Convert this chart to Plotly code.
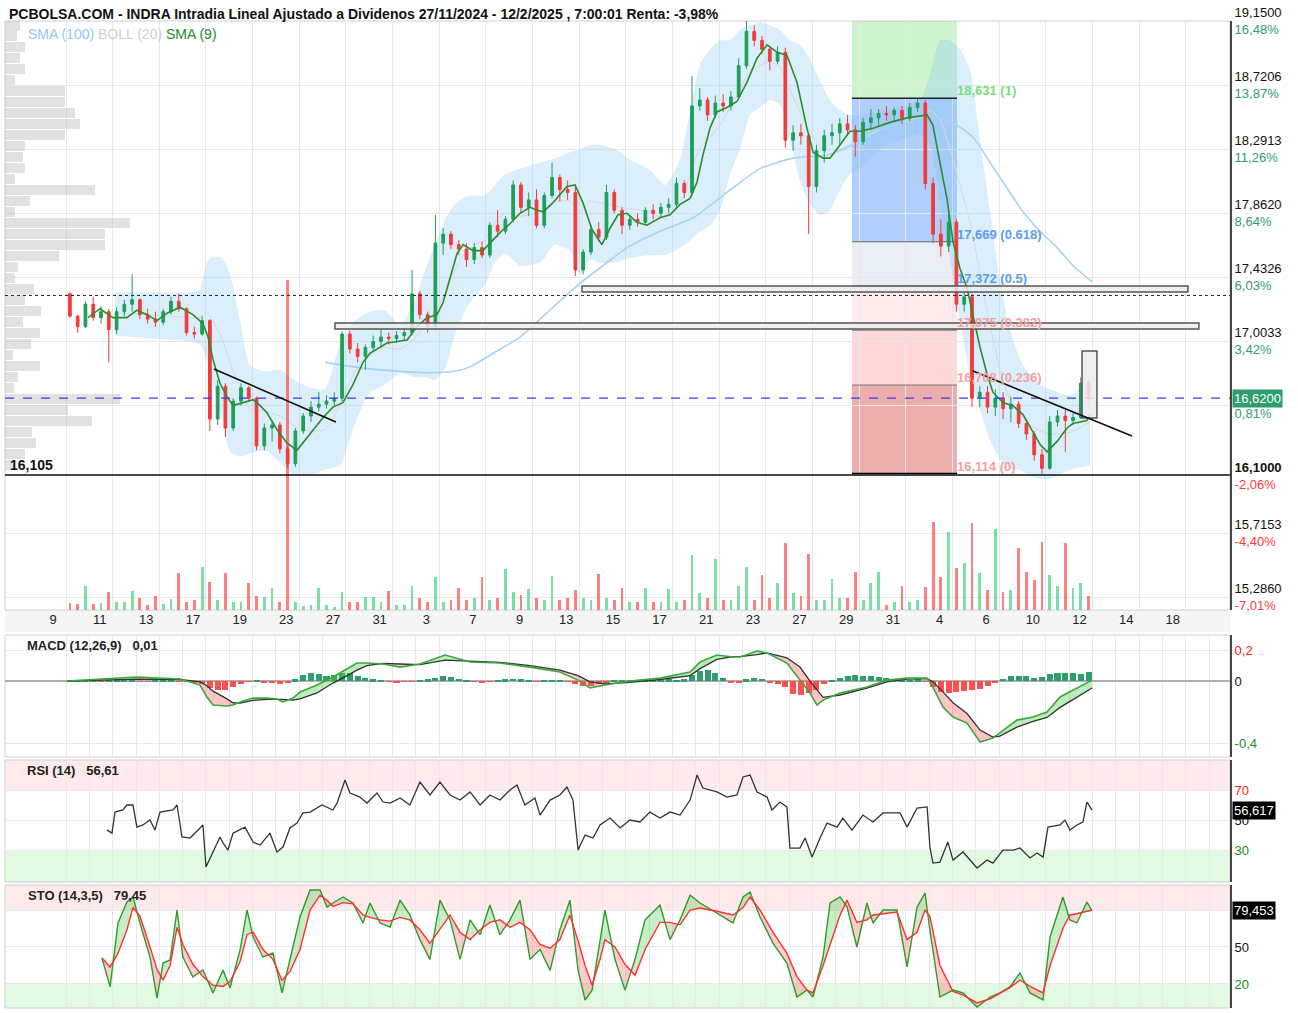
import plotly.graph_objects as go

W, H = 1298, 1013
ML, MR = 5, 68
PW = W - ML - MR


def px_x(x):
    return (x - ML) / PW


def px_y(y):
    return 1 - y / H


FONT = "Liberation Sans, Arial, sans-serif"
GTXT = "#2e9e6e"
RTXT = "#ff3b3b"

# ---------------- data ----------------
day_labels = ["9", "11", "13", "17", "19", "23", "27", "31", "3", "7", "9", "13", "15",
              "17", "21", "23", "27", "29", "31", "4", "6", "10", "12", "14", "18"]
label_days = list(range(0, 49, 2))

open_ = [17.32, 17.17, 17.10, 17.25, 17.16, 17.20, 17.08, 17.20, 17.25, 17.28, 17.18, 17.15,
         17.13, 17.20, 17.27, 17.22, 17.06, 17.05, 17.14, 16.48, 16.70, 16.42, 16.60, 16.69,
         16.62, 16.30, 16.42, 16.44, 16.28, 16.18, 16.40, 16.50, 16.56, 16.58, 16.60, 16.62,
         17.05, 16.95, 16.90, 16.96, 17.00, 17.03, 17.02, 17.04, 17.06, 17.32, 17.18, 17.10,
         17.66, 17.72, 17.65, 17.62, 17.55, 17.63, 17.58, 17.78, 17.74, 17.82, 18.05, 17.90,
         17.95, 17.78, 17.98, 18.10, 18.02, 18.00, 17.48, 17.60, 17.75, 17.70, 18.00, 17.88,
         17.78, 17.82, 17.80, 17.88, 17.86, 17.90, 17.92, 18.06, 18.00, 18.58, 18.62, 18.52,
         18.60, 18.58, 18.64, 18.85, 19.08, 19.02, 18.96, 18.88, 18.94, 18.35, 18.40, 18.38,
         18.04, 18.28, 18.38, 18.40, 18.46, 18.42, 18.34, 18.47, 18.50, 18.53, 18.52, 18.55,
         18.50, 18.57, 18.60, 18.06, 17.72, 17.64, 17.80, 17.25, 17.30, 16.62, 16.66, 16.56,
         16.62, 16.55, 16.58, 16.45, 16.38, 16.24, 16.15, 16.46, 16.50, 16.47, 16.49, 16.72]
high = [17.33, 17.18, 17.27, 17.30, 17.24, 17.22, 17.23, 17.28, 17.45, 17.29, 17.22, 17.20,
        17.22, 17.30, 17.32, 17.23, 17.10, 17.17, 17.15, 16.74, 16.72, 16.62, 16.72, 16.70,
        16.63, 16.45, 16.47, 16.46, 16.30, 16.42, 16.52, 16.60, 16.66, 16.64, 16.66, 17.07,
        17.07, 16.99, 16.98, 17.04, 17.08, 17.06, 17.07, 17.08, 17.48, 17.34, 17.20, 17.85,
        17.76, 17.74, 17.68, 17.66, 17.66, 17.67, 17.80, 17.88, 17.84, 18.08, 18.07, 18.00,
        18.02, 18.00, 18.20, 18.12, 18.08, 18.04, 17.62, 17.78, 17.80, 18.05, 18.02, 17.90,
        17.85, 17.86, 17.90, 17.92, 17.93, 17.96, 18.10, 18.08, 18.78, 18.70, 18.64, 18.65,
        18.66, 18.68, 18.90, 19.15, 19.12, 19.05, 18.98, 18.98, 18.97, 18.45, 18.46, 18.40,
        18.32, 18.42, 18.46, 18.50, 18.52, 18.45, 18.50, 18.56, 18.56, 18.58, 18.57, 18.58,
        18.60, 18.63, 18.62, 18.10, 17.82, 17.88, 17.82, 17.34, 17.32, 16.70, 16.70, 16.68,
        16.66, 16.63, 16.60, 16.48, 16.40, 16.28, 16.50, 16.54, 16.54, 16.52, 16.76, 16.74]
low = [17.16, 17.06, 17.09, 17.14, 17.12, 16.86, 17.05, 17.17, 17.20, 17.15, 17.12, 17.10,
       17.11, 17.18, 17.20, 17.04, 17.02, 17.04, 16.40, 16.44, 16.36, 16.40, 16.57, 16.60,
       16.27, 16.27, 16.33, 16.25, 16.15, 16.16, 16.38, 16.46, 16.53, 16.55, 16.57, 16.60,
       16.92, 16.86, 16.81, 16.93, 16.96, 16.98, 16.99, 17.01, 17.04, 17.15, 17.06, 17.08,
       17.58, 17.62, 17.58, 17.50, 17.52, 17.56, 17.56, 17.70, 17.72, 17.80, 17.86, 17.84,
       17.76, 17.76, 17.96, 17.94, 17.95, 17.44, 17.45, 17.58, 17.67, 17.68, 17.86, 17.72,
       17.75, 17.77, 17.78, 17.82, 17.83, 17.86, 17.90, 17.96, 17.98, 18.55, 18.48, 18.50,
       18.54, 18.55, 18.62, 18.83, 18.98, 18.93, 18.82, 18.86, 18.30, 18.28, 18.32, 17.72,
       18.00, 18.20, 18.32, 18.32, 18.38, 18.24, 18.32, 18.42, 18.45, 18.48, 18.47, 18.46,
       18.48, 18.54, 18.02, 17.66, 17.57, 17.60, 17.20, 17.20, 16.56, 16.56, 16.52, 16.50,
       16.48, 16.46, 16.42, 16.34, 16.20, 16.11, 16.14, 16.43, 16.26, 16.44, 16.48, 16.60]
close = [17.17, 17.10, 17.25, 17.16, 17.20, 17.08, 17.20, 17.25, 17.28, 17.18, 17.15, 17.13,
         17.20, 17.27, 17.22, 17.06, 17.05, 17.14, 16.48, 16.70, 16.42, 16.60, 16.69, 16.62,
         16.30, 16.42, 16.44, 16.28, 16.18, 16.40, 16.50, 16.56, 16.58, 16.60, 16.62, 17.05,
         16.95, 16.90, 16.96, 17.00, 17.03, 17.02, 17.04, 17.06, 17.32, 17.18, 17.10, 17.66,
         17.72, 17.65, 17.62, 17.55, 17.63, 17.58, 17.78, 17.74, 17.82, 18.05, 17.90, 17.95,
         17.78, 17.98, 18.10, 18.02, 18.00, 17.48, 17.60, 17.75, 17.70, 18.00, 17.88, 17.78,
         17.82, 17.80, 17.88, 17.86, 17.90, 17.92, 18.06, 18.00, 18.58, 18.62, 18.52, 18.60,
         18.58, 18.64, 18.85, 19.08, 19.02, 18.96, 18.88, 18.94, 18.35, 18.40, 18.38, 18.04,
         18.28, 18.38, 18.40, 18.46, 18.42, 18.34, 18.47, 18.50, 18.53, 18.52, 18.55, 18.50,
         18.57, 18.60, 18.06, 17.72, 17.64, 17.80, 17.25, 17.30, 16.62, 16.66, 16.56, 16.62,
         16.55, 16.58, 16.45, 16.38, 16.24, 16.15, 16.46, 16.50, 16.47, 16.49, 16.72, 16.62]
volume = [7, 6, 24, 6, 7, 18, 8, 8, 19, 12, 5, 14, 6, 11, 37, 8, 10, 43, 28, 10, 37,
          8, 8, 27, 14, 13, 22, 8, 330, 8, 4, 5, 22, 5, 3, 18, 8, 8, 13, 13, 8, 19,
          5, 5, 24, 12, 8, 33, 8, 10, 22, 10, 12, 33, 10, 12, 41, 18, 15, 21, 12, 10, 34,
          10, 12, 20, 12, 10, 36, 12, 10, 22, 8, 8, 22, 8, 8, 21, 8, 10, 55, 17, 12, 51,
          10, 10, 24, 43, 10, 35, 12, 27, 67, 17, 14, 56, 10, 10, 31, 12, 12, 38, 10, 27, 38,
          5, 8, 24, 8, 10, 23, 88, 33, 78, 42, 47, 87, 37, 20, 81, 18, 20, 62, 38, 30, 68,
          35, 24, 67, 22, 27, 14]
bar_t = [k / 3 + 1 / 6 for k in range(len(close))]   # trading-day time of each bar

sma9_t = [0.94, 1.46, 2.01, 2.61, 3.04, 3.47, 3.90, 4.33, 4.89, 5.44, 5.87, 6.09, 6.30, 6.60, 6.90,
          7.16, 7.59, 8.02, 8.32, 8.62, 9.04, 9.47, 9.90, 10.16, 10.59, 11.02, 11.44, 11.87, 12.30,
          12.73, 13.03, 13.76, 14.62, 15.04, 15.47, 15.90, 16.16, 16.46, 16.76, 17.02, 17.45, 17.87,
          18.17, 18.60, 19.03, 19.46, 19.89, 20.19, 20.45, 20.87, 21.47, 21.82, 22.16, 22.55, 22.97,
          23.32, 23.66, 24.05, 24.47, 24.90, 25.46, 25.89, 26.32, 26.75, 27.05, 27.30, 27.60, 27.90,
          28.33, 28.76, 29.19, 29.62, 30.05, 30.48, 30.90, 31.33, 31.76, 32.02, 32.45, 32.75, 33.18,
          33.60, 34.03, 34.59, 35.32, 36.05, 36.91, 37.16, 37.46, 37.76, 38.02, 38.32, 38.62, 38.88,
          39.18, 39.48, 39.73, 40.16, 40.59, 41.02, 41.45, 41.75, 42.05, 42.48, 42.91, 43.16, 43.76,
          43.89]
sma9_v = [17.16, 17.22, 17.16, 17.16, 17.21, 17.18, 17.14, 17.19, 17.23, 17.18, 17.12, 17.03, 16.88,
          16.72, 16.63, 16.57, 16.59, 16.61, 16.57, 16.52, 16.41, 16.32, 16.27, 16.32, 16.41, 16.49,
          16.56, 16.59, 16.71, 16.86, 16.92, 16.99, 17.01, 17.10, 17.16, 17.18, 17.26, 17.43, 17.59,
          17.65, 17.61, 17.61, 17.66, 17.73, 17.79, 17.86, 17.90, 17.88, 17.87, 17.93, 18.04, 18.05,
          17.93, 17.75, 17.65, 17.76, 17.85, 17.86, 17.80, 17.78, 17.83, 17.85, 17.92, 17.96, 18.07,
          18.25, 18.43, 18.54, 18.57, 18.61, 18.74, 18.90, 18.99, 18.94, 18.92, 18.74, 18.43, 18.27,
          18.23, 18.23, 18.32, 18.41, 18.41, 18.43, 18.47, 18.50, 18.52, 18.45, 18.20, 17.96, 17.67,
          17.49, 17.36, 17.18, 16.96, 16.78, 16.66, 16.59, 16.57, 16.51, 16.39, 16.31, 16.26, 16.33,
          16.42, 16.45, 16.47, 16.51]

bb_t = [2.10, 3.60, 5.32, 5.74, 6.04, 6.30, 6.69, 7.03, 7.46, 7.89, 8.53, 9.17, 9.82, 10.46, 11.10,
        11.74, 12.39, 13.03, 13.67, 14.32, 14.96, 15.39, 15.82, 16.25, 16.67, 17.10, 17.53, 17.96,
        18.39, 18.82, 19.46, 20.32, 20.96, 21.60, 22.03, 22.46, 22.89, 23.53, 24.17, 25.03, 25.68,
        26.32, 26.75, 27.18, 27.60, 28.03, 28.46, 28.89, 29.32, 29.75, 30.18, 30.60, 31.03, 31.46,
        31.89, 32.32, 32.75, 33.18, 33.60, 34.03, 34.89, 35.75, 36.60, 37.03, 37.46, 37.89, 38.32,
        38.75, 39.18, 39.60, 40.03, 40.46, 40.89, 41.32, 41.75, 42.18, 43.03, 43.89]
bb_up = [17.33, 17.33, 17.33, 17.35, 17.53, 17.57, 17.56, 17.45, 17.14, 16.84, 16.80, 16.81, 16.74,
         16.69, 16.68, 16.98, 17.14, 17.20, 17.21, 17.11, 17.28, 17.48, 17.65, 17.82, 17.92, 17.97,
         17.98, 17.98, 18.05, 18.12, 18.16, 18.20, 18.23, 18.27, 18.29, 18.32, 18.32, 18.29, 18.22,
         18.15, 18.05, 18.22, 18.55, 18.86, 18.96, 19.02, 19.02, 19.09, 19.12, 19.14, 19.12, 19.09,
         19.02, 18.99, 18.89, 18.75, 18.62, 18.55, 18.52, 18.52, 18.55, 18.57, 18.62, 18.79, 19.02,
         19.02, 18.96, 18.82, 18.35, 17.88, 17.41, 17.08, 16.88, 16.78, 16.71, 16.68, 16.64, 16.74]
bb_mid = [17.19, 17.18, 17.16, 17.16, 17.20, 17.14, 17.02, 16.86, 16.69, 16.55, 16.53, 16.50, 16.43,
          16.40, 16.41, 16.57, 16.80, 16.93, 16.96, 16.95, 17.02, 17.12, 17.20, 17.32, 17.48, 17.59,
          17.65, 17.68, 17.80, 17.86, 17.84, 17.87, 17.94, 17.94, 17.87, 17.94, 17.93, 17.91, 17.89,
          17.87, 17.82, 17.92, 18.12, 18.30, 18.37, 18.45, 18.57, 18.69, 18.82, 18.85, 18.88, 18.84,
          18.69, 18.54, 18.41, 18.31, 18.25, 18.29, 18.32, 18.35, 18.42, 18.46, 18.51, 18.55, 18.49,
          18.29, 18.05, 17.80, 17.45, 17.11, 16.81, 16.61, 16.51, 16.44, 16.40, 16.38, 16.39, 16.46]
bb_lo = [17.04, 17.02, 17.00, 16.98, 16.88, 16.71, 16.47, 16.26, 16.23, 16.25, 16.27, 16.19, 16.10,
         16.10, 16.14, 16.17, 16.45, 16.66, 16.71, 16.79, 16.76, 16.76, 16.74, 16.82, 17.04, 17.21,
         17.31, 17.38, 17.53, 17.59, 17.51, 17.53, 17.65, 17.61, 17.45, 17.55, 17.53, 17.53, 17.56,
         17.58, 17.58, 17.63, 17.68, 17.74, 17.78, 17.88, 18.12, 18.29, 18.52, 18.57, 18.62, 18.59,
         18.35, 18.08, 17.92, 17.85, 17.88, 18.02, 18.12, 18.16, 18.29, 18.35, 18.39, 18.32, 17.95,
         17.55, 17.14, 16.78, 16.54, 16.34, 16.21, 16.15, 16.14, 16.10, 16.08, 16.08, 16.14, 16.17]

sma100_t = [11.10, 12.82, 14.32, 15.60, 16.67, 17.32, 18.30, 19.46, 20.87, 22.03, 23.19, 24.05, 25.46,
            26.88, 28.33, 29.75, 31.16, 32.62, 33.73, 34.59, 36.05, 36.91, 37.46, 38.19, 38.88, 39.61,
            40.33, 41.02, 41.75, 42.48, 43.16, 43.98]
sma100_v = [16.86, 16.82, 16.80, 16.79, 16.80, 16.83, 16.92, 17.03, 17.23, 17.39, 17.53, 17.63, 17.74,
            17.83, 18.00, 18.16, 18.23, 18.25, 18.32, 18.41, 18.47, 18.51, 18.50, 18.45, 18.37, 18.20,
            18.03, 17.87, 17.74, 17.63, 17.51, 17.40]

macd_t = [0.04, 1.46, 3.04, 4.89, 5.74, 6.04, 6.30, 6.90, 7.16, 7.46, 8.02, 8.62, 9.04, 9.30, 9.73,
          10.03, 10.76, 11.44, 12.17, 12.47, 12.90, 13.59, 14.32, 15.17, 16.25, 17.32, 18.60, 19.89,
          21.17, 21.95, 22.46, 23.10, 24.17, 25.46, 26.75, 27.18, 27.90, 28.59, 28.89, 29.62, 30.05,
          30.90, 31.46, 31.89, 32.19, 32.45, 33.18, 34.33, 35.19, 36.05, 36.91, 37.16, 37.59, 38.02,
          38.62, 39.18, 39.73, 40.03, 40.76, 41.45, 42.05, 42.61, 43.16, 43.98]
macd_v = [0, 0.013, 0.026, 0.013, -0.026, -0.103, -0.155, -0.161, -0.155, -0.135, -0.110, -0.110,
          -0.116, -0.135, -0.110, -0.071, -0.026, 0.026, 0.090, 0.116, 0.116, 0.110, 0.090, 0.110,
          0.168, 0.123, 0.116, 0.090, 0.058, 0.006, -0.045, -0.026, 0.000, 0.019, 0.058, 0.123, 0.168,
          0.155, 0.155, 0.194, 0.181, 0.116, 0.006, -0.077, -0.155, -0.123, -0.077, -0.039, 0.006,
          0.019, 0.019, -0.039, -0.168, -0.232, -0.271, -0.394, -0.368, -0.335, -0.252, -0.232,
          -0.200, -0.103, -0.058, 0.006]
macd_sig = [0, 0.005, 0.012, 0.010, -0.005, -0.030, -0.065, -0.115, -0.140, -0.142, -0.125, -0.118,
            -0.116, -0.118, -0.123, -0.115, -0.077, -0.013, 0.045, 0.070, 0.100, 0.114, 0.110, 0.106,
            0.135, 0.130, 0.120, 0.100, 0.070, 0.035, -0.005, -0.018, -0.008, 0.010, 0.035, 0.080,
            0.140, 0.158, 0.157, 0.170, 0.181, 0.150, 0.090, 0.000, -0.060, -0.105, -0.090, -0.045,
            -0.005, 0.013, 0.015, -0.005, -0.070, -0.140, -0.210, -0.316, -0.361, -0.355, -0.297,
            -0.260, -0.235, -0.170, -0.120, -0.045]
macd_hist = [0.003, 0.005, 0.004, 0.002, -0.002, 0.003, 0.004, 0.006, 0.005, -0.002, -0.003, 0.002,
             0.003, 0.004, -0.002, -0.005, -0.01, -0.02, -0.045, -0.06, -0.055, -0.04, -0.02, -0.005,
             0.005, -0.01, -0.015, -0.02, -0.01, 0.01, 0.04, 0.05, 0.045, 0.035, 0.04, 0.05,
             0.05, 0.035, 0.02, 0.01, 0.005, -0.005, -0.01, -0.005, -0.002, 0.005, 0.01, 0.02,
             0.03, 0.025, 0.015, 0.005, -0.005, -0.01, -0.005, 0.005, 0.01, 0.015, 0.01, 0.005,
             -0.005, 0.003, 0.005, 0.002, -0.005, -0.02, -0.035, -0.03, -0.02, -0.01, 0.005, 0.005,
             0.002, -0.003, 0.002, 0.005, 0.01, 0.01, 0.005, 0.01, 0.04, 0.065, 0.07, 0.05,
             0.02, -0.008, -0.01, 0.01, 0.02, 0.015, -0.01, -0.02, -0.04, -0.085, -0.09, -0.08,
             -0.06, -0.02, 0.005, 0.02, 0.03, 0.04, 0.035, 0.03, 0.025, 0.02, 0.015, 0.01,
             0.008, 0.01, -0.005, -0.04, -0.07, -0.075, -0.07, -0.065, -0.06, -0.05, -0.03, -0.01,
             0.015, 0.03, 0.035, 0.03, 0.02, 0.025, 0.045, 0.055, 0.055, 0.05, 0.045, 0.06]

rsi_t = [1.76, 1.97, 2.10, 2.44, 2.61, 2.87, 3.04, 3.30, 3.60, 3.81, 4.03, 4.59, 4.76, 4.97, 5.32,
         5.74, 5.87, 6.00, 6.17, 6.60, 6.73, 6.94, 7.16, 7.67, 8.02, 8.32, 8.74, 9.04, 9.30, 9.60,
         9.90, 10.16, 10.46, 10.97, 11.44, 11.62, 11.96, 12.17, 12.60, 12.90, 13.33, 13.59, 13.89,
         14.32, 14.74, 15.17, 15.60, 16.03, 16.46, 16.89, 17.32, 17.75, 18.17, 18.60, 19.03, 19.33,
         19.67, 20.10, 20.32, 20.75, 21.17, 21.47, 21.73, 21.95, 22.25, 22.59, 22.89, 23.32, 23.75,
         24.17, 24.60, 25.03, 25.46, 25.89, 26.32, 26.75, 27.05, 27.30, 27.90, 28.33, 28.76, 29.02,
         29.32, 29.62, 30.05, 30.26, 30.60, 30.90, 31.03, 31.46, 31.68, 31.98, 32.32, 32.62, 33.05,
         33.30, 33.69, 34.16, 34.59, 35.02, 35.75, 36.05, 36.48, 36.91, 37.03, 37.16, 37.46, 37.80,
         38.02, 38.45, 39.05, 39.48, 39.73, 40.16, 40.59, 40.89, 41.32, 41.62, 41.88, 42.09, 42.61,
         42.82, 43.03, 43.33, 43.59, 43.76, 43.98]
rsi_v = [43.3, 41.3, 55.3, 56.7, 60, 60, 45.3, 46.7, 50, 43.3, 55.3, 56.7, 60, 38.7, 38, 44.7, 46.7,
         18.7, 24.7, 38.7, 34.7, 30, 41.3, 45.3, 35.3, 33.3, 41.3, 28.7, 32, 44.7, 48, 54.7, 55.3, 60,
         56.7, 61.3, 76.7, 68, 65.3, 61.3, 68, 62, 61.3, 64.7, 60, 75.3, 66.7, 75.3, 66.7, 63.3, 68.7,
         60, 66.7, 63.3, 70, 73.3, 60, 64.7, 53.3, 63.3, 66.7, 72, 63.3, 30, 40, 38, 46.7, 51.3, 44.7,
         50, 48.7, 55.3, 51.3, 55.3, 53.3, 63.3, 80, 71.3, 68.7, 65.3, 66.7, 78.7, 80, 68.7, 65.3,
         56.7, 62, 58.7, 31.3, 31.3, 38, 25.3, 38, 48, 45.3, 51.3, 43.3, 53.3, 48.7, 54.7, 54.7, 45.3,
         58, 58.7, 32, 21.3, 22, 35.3, 23.3, 28.7, 18, 23.3, 21.3, 30, 30, 31.3, 24.7, 28, 25.3, 45.3,
         46.7, 50, 43.3, 46.7, 48.7, 62, 56.6]

sto_t = [1.54, 1.89, 2.23, 2.61, 2.87, 3.17, 3.60, 3.90, 4.16, 4.46, 4.76, 5.01, 5.44, 5.87, 6.30,
         6.73, 7.03, 7.46, 7.76, 8.02, 8.44, 8.87, 9.26, 9.60, 10.03, 10.46, 10.89, 11.19, 11.44, 11.87,
         12.30, 12.73, 13.03, 13.46, 13.89, 14.32, 14.74, 15.17, 15.60, 16.03, 16.46, 16.89, 17.32,
         17.75, 18.17, 18.60, 19.03, 19.46, 19.89, 20.32, 20.75, 21.17, 21.60, 21.95, 22.25, 22.55,
         22.89, 23.10, 23.53, 23.96, 24.39, 24.82, 25.46, 25.89, 26.32, 26.75, 27.18, 27.90, 28.59,
         29.02, 29.32, 29.75, 30.30, 30.90, 31.33, 31.76, 32.02, 32.45, 32.75, 33.18, 33.48, 33.90,
         34.33, 34.59, 35.02, 35.62, 36.05, 36.48, 36.82, 37.03, 37.46, 38.02, 38.45, 39.05, 39.61,
         40.03, 40.46, 40.89, 41.32, 41.88, 42.18, 42.73, 43.03, 43.33, 43.76, 43.98]
sto_k = [41.1, 17.6, 69.5, 86.5, 90.6, 69.5, 41.9, 8.6, 37.0, 39.5, 80.0, 41.9, 25.7, 31.3, 12.7,
         31.3, 16.7, 47.6, 80.0, 58.1, 41.9, 45.1, 12.7, 39.5, 74.3, 96.2, 96.2, 82.4, 85.7, 90.6,
         85.7, 69.5, 85.7, 69.5, 66.2, 88.1, 76, 56, 40, 88, 72, 40, 72, 60, 84, 60, 72, 88, 40, 48,
         31, 64, 88, 31, 7, 15, 56, 80, 40, 15, 40, 72, 84, 56, 72, 92, 85.7, 77.6, 69.5, 90.6,
         94.6, 74.3, 53.2, 37.0, 9.4, 15.1, 9.4, 41.9, 85.7, 90.6, 82.4, 50, 85.7, 69.5, 80, 80,
         33.8, 82.4, 93.8, 63.8, 9.4, 15.1, 12.7, 1.3, 9.4, 12.7, 17.6, 28.9, 12.7, 7.0, 58.1, 90.6,
         71.9, 69.5, 86.5, 79.5]
sto_d = [41.1, 33.8, 45, 63.8, 82, 75, 50, 32, 23, 35, 66, 52, 36, 26, 19, 18, 22, 38, 60, 62,
         48, 40, 23, 30, 48, 80, 92, 88, 83, 86, 85, 76, 74, 72, 71, 74, 72, 64, 53, 64, 76, 62, 56,
         64, 70, 72, 66, 70, 64, 52, 49, 56, 76, 55, 35, 19, 40, 56, 50, 36, 27, 48, 70, 70, 68, 80,
         81.6, 79, 76, 82, 90.6, 80, 62, 45, 26, 15.1, 12.7, 35, 52, 76, 88, 70, 72, 76, 77, 78.4,
         56, 62, 80, 75, 35, 14, 11, 4.6, 8, 12.7, 17, 23.2, 18, 12.7, 35, 65, 76, 77, 79, 80]

prof_price = [19.117, 19.050, 18.976, 18.902, 18.828, 18.754, 18.681, 18.607, 18.533, 18.459, 18.385,
              18.312, 18.238, 18.164, 18.090, 18.016, 17.943, 17.869, 17.795, 17.721, 17.647, 17.574,
              17.500, 17.426, 17.352, 17.279, 17.205, 17.131, 17.057, 16.983, 16.910, 16.836, 16.762,
              16.688, 16.614, 16.541, 16.467, 16.393, 16.319, 16.245, 16.172]
prof_vol = [15, 12, 20, 15, 20, 10, 60, 60, 70, 75, 60, 20, 18, 20, 10, 90, 25, 10, 125, 100, 100,
            54, 13, 10, 29, 20, 36, 18, 35, 26, 8, 35, 13, 9, 115, 63, 87, 27, 31, 20, 10]

# drawing objects (time in trading days, prices in EUR)
fib_t = [33.69, 38.19]
fib_prices = [18.631, 17.669, 17.372, 17.075, 16.708, 16.114]
fib_names = ["18,631 (1)", "17,669 (0.618)", "17,372 (0.5)", "17,075 (0.382)", "16,708 (0.236)", "16,114 (0)"]
zones = [(22.12, 48.09, 17.332, 17.372), (11.53, 48.56, 17.084, 17.124), (43.55, 44.19, 16.487, 16.937)]
trendlines = [(6.34, 16.816, 11.57, 16.460), (38.88, 16.802, 45.69, 16.366)]
last_price = 16.62
start_price = 17.309
support = 16.105

y_ticks = [19.15, 18.7206, 18.2913, 17.862, 17.4326, 17.0033, 16.574, 16.1, 15.7153, 15.286]
y_price_txt = ["19,1500", "18,7206", "18,2913", "17,8620", "17,4326", "17,0033", "&nbsp;",
               "<b>16,1000</b>", "15,7153", "15,2860"]
y_pct_txt = ["16,48%", "13,87%", "11,26%", "8,64%", "6,03%", "3,42%", "0,81%", "-2,06%", "-4,40%", "-7,01%"]

XR = [-2.615, 49.893]
YR = [15.199, 19.150]

fig = go.Figure()

# ---- main price panel: base layer ----
fig.add_trace(go.Scatter(x=bb_t, y=bb_up, mode="lines", line=dict(width=0, shape="spline", smoothing=0.6),
                         hoverinfo="skip"))
fig.add_trace(go.Scatter(x=bb_t, y=bb_lo, mode="lines", line=dict(width=0, shape="spline", smoothing=0.6),
                         fill="tonexty", fillcolor="rgba(135,198,245,0.30)", hoverinfo="skip"))
fig.add_trace(go.Scatter(x=bb_t, y=bb_mid, mode="lines",
                         line=dict(width=1, color="#d9d9d9", shape="spline", smoothing=0.6)))
fig.add_trace(go.Scatter(x=sma100_t, y=sma100_v, mode="lines",
                         line=dict(width=1.6, color="#a6d3f5", shape="spline", smoothing=0.6)))

# volume
vol_colors = ["rgba(40,200,110,0.6)" if c >= o else "rgba(255,60,60,0.65)" for o, c in zip(open_, close)]
fig.add_trace(go.Bar(x=bar_t, y=volume, width=0.12, marker=dict(color=vol_colors, line=dict(width=0)),
                     xaxis="x", yaxis="y5"))

# candles + SMA9
fig.add_trace(go.Candlestick(x=bar_t, open=open_, high=high, low=low, close=close,
                             increasing=dict(line=dict(color="#1f9e5a", width=1), fillcolor="#1f9e5a"),
                             decreasing=dict(line=dict(color="#f03c3c", width=1), fillcolor="#f03c3c"),
                             whiskerwidth=0, xaxis="x", yaxis="y6"))
fig.add_trace(go.Scatter(x=sma9_t, y=sma9_v, mode="lines", line=dict(color="#2d8c2d", width=1.6),
                         xaxis="x", yaxis="y6"))

# volume profile
fig.add_trace(go.Bar(x=prof_vol, y=prof_price, orientation="h", width=0.062,
                     marker=dict(color="rgba(185,185,185,0.42)", line=dict(width=0)),
                     xaxis="x5", yaxis="y"))


def two_tone(t, a, b):
    ux, uy, dx, dy = [], [], [], []
    for i in range(len(t) - 1):
        xs = [t[i], t[i + 1], t[i + 1], t[i], t[i], None]
        ys = [a[i], a[i + 1], b[i + 1], b[i], a[i], None]
        if a[i] + a[i + 1] >= b[i] + b[i + 1]:
            ux += xs
            uy += ys
        else:
            dx += xs
            dy += ys
    return ux, uy, dx, dy


# ---- MACD ----
ux, uy, dx, dy = two_tone(macd_t, macd_v, macd_sig)
fig.add_trace(go.Scatter(x=ux, y=uy, mode="none", fill="toself", fillcolor="rgba(70,200,70,0.35)",
                         xaxis="x2", yaxis="y2", hoverinfo="skip"))
fig.add_trace(go.Scatter(x=dx, y=dy, mode="none", fill="toself", fillcolor="rgba(255,90,90,0.35)",
                         xaxis="x2", yaxis="y2", hoverinfo="skip"))
hist_colors = ["#2e9e6e" if v >= 0 else "#ff5050" for v in macd_hist]
fig.add_trace(go.Bar(x=bar_t, y=macd_hist, width=0.26, marker=dict(color=hist_colors, line=dict(width=0)),
                     xaxis="x2", yaxis="y2"))
fig.add_trace(go.Scatter(x=macd_t, y=macd_sig, mode="lines", line=dict(color="#333333", width=1.3),
                         xaxis="x2", yaxis="y2"))
fig.add_trace(go.Scatter(x=macd_t, y=macd_v, mode="lines", line=dict(color="#3aa83a", width=1.6),
                         xaxis="x2", yaxis="y2"))

# ---- RSI ----
fig.add_trace(go.Scatter(x=rsi_t, y=rsi_v, mode="lines", line=dict(color="#333333", width=1.3),
                         xaxis="x3", yaxis="y3"))

# ---- STO ----
ux, uy, dx, dy = two_tone(sto_t, sto_k, sto_d)
fig.add_trace(go.Scatter(x=ux, y=uy, mode="none", fill="toself", fillcolor="rgba(70,200,70,0.3)",
                         xaxis="x4", yaxis="y4", hoverinfo="skip"))
fig.add_trace(go.Scatter(x=dx, y=dy, mode="none", fill="toself", fillcolor="rgba(255,90,90,0.3)",
                         xaxis="x4", yaxis="y4", hoverinfo="skip"))
fig.add_trace(go.Scatter(x=sto_t, y=sto_k, mode="lines", line=dict(color="#2e9b2e", width=1.4),
                         xaxis="x4", yaxis="y4"))
fig.add_trace(go.Scatter(x=sto_t, y=sto_d, mode="lines", line=dict(color="#ff3030", width=1.4),
                         xaxis="x4", yaxis="y4"))

# ---------------- layout ----------------
GRID = "#e8e8e8"
tickfont = dict(family=FONT, size=13, color="#111")


def colored(txt, col):
    return "<span style='color:%s'>%s</span>" % (col, txt)


main_ticktext = ["%s<br>%s" % (p, colored(q, RTXT if q.startswith("-") else GTXT))
                 for p, q in zip(y_price_txt, y_pct_txt)]

xbase = dict(range=XR, showgrid=True, gridcolor=GRID, gridwidth=1, zeroline=False, showline=False,
             ticks="", fixedrange=True, automargin=False)
ybase = dict(side="right", showgrid=True, gridcolor=GRID, gridwidth=1, zeroline=False, showline=True,
             linecolor="#444", linewidth=2, ticks="", tickfont=tickfont, fixedrange=True, automargin=False)

fig.update_layout(
    width=W, height=H, margin=dict(l=ML, r=MR, t=0, b=0, pad=0, autoexpand=False),
    paper_bgcolor="white", plot_bgcolor="white", showlegend=False, boxgap=0.5,
    bargap=0, hovermode=False,
    xaxis=dict(xbase, domain=[0, 1], anchor="y", tickmode="array", tickvals=label_days,
               ticktext=day_labels, ticklabelshift=-13, tickfont=dict(family=FONT, size=13, color="#222"),
               rangeslider=dict(visible=False)),
    xaxis2=dict(xbase, matches="x", anchor="y2", tickmode="array", tickvals=list(range(0, 50)),
                showticklabels=False),
    xaxis3=dict(xbase, matches="x", anchor="y3", tickmode="array", tickvals=list(range(0, 50)),
                showticklabels=False),
    xaxis4=dict(xbase, matches="x", anchor="y4", tickmode="array", tickvals=list(range(0, 50)),
                showticklabels=False),
    xaxis5=dict(overlaying="x", range=[0, PW], visible=False, anchor="y", fixedrange=True),
    yaxis=dict(ybase, domain=[px_y(610), px_y(21)], range=YR, anchor="x", tickmode="array",
               tickvals=y_ticks, ticktext=main_ticktext),
    yaxis5=dict(overlaying="y", range=[0, 589], visible=False, fixedrange=True),
    yaxis6=dict(overlaying="y", range=YR, visible=False, fixedrange=True),
    yaxis2=dict(ybase, domain=[px_y(757), px_y(635)], range=[-0.490, 0.297], anchor="x2",
                tickmode="array", tickvals=[0.2, 0, -0.4],
                ticktext=[colored("0,2", "#ff2020"), "0", colored("-0,4", "#1a8a1a")],
                zeroline=True, zerolinecolor="#b0b0b0", zerolinewidth=1.5),
    yaxis3=dict(ybase, domain=[px_y(882), px_y(760)], range=[8.7, 90], anchor="x3",
                tickmode="array", tickvals=[70, 50, 30],
                ticktext=[colored("70", "#ff2020"), "50", colored("30", "#1a8a1a")]),
    yaxis4=dict(ybase, domain=[px_y(1008), px_y(885)], range=[0.5, 100.3], anchor="x4",
                tickmode="array", tickvals=[80, 50, 20],
                ticktext=["", "50", colored("20", "#1a8a1a")]),
)

shapes = []
# x label band
shapes.append(dict(type="rect", xref="paper", yref="paper", x0=0, x1=1, y0=px_y(632), y1=px_y(610),
                   fillcolor="#f5f5f5", line=dict(width=0), layer="below"))
# RSI / STO bands
for xr, yr, lo, hi, col in [("x3", "y3", 70, 90, "rgba(245,80,80,0.12)"),
                            ("x3", "y3", 8.7, 30, "rgba(60,220,60,0.15)"),
                            ("x4", "y4", 80, 100.3, "rgba(245,80,80,0.12)"),
                            ("x4", "y4", 0.5, 20, "rgba(60,220,60,0.15)")]:
    shapes.append(dict(type="rect", xref=xr + " domain", yref=yr, x0=0, x1=1, y0=lo, y1=hi,
                       fillcolor=col, line=dict(width=0), layer="below"))
# fib zones
zone_cols = ["rgba(60,210,60,0.25)", "rgba(70,140,250,0.42)", "rgba(170,190,215,0.25)",
             "rgba(250,120,120,0.15)", "rgba(250,110,110,0.27)", "rgba(210,60,60,0.42)"]
fib_bounds = [YR[1]] + fib_prices
for i in range(len(fib_prices)):
    shapes.append(dict(type="rect", xref="x", yref="y", x0=fib_t[0], x1=fib_t[1],
                       y0=fib_bounds[i + 1], y1=fib_bounds[i], fillcolor=zone_cols[i],
                       line=dict(width=0), layer="below"))
fib_line_cols = ["#222", "#666", "#888", "#888", "#777", "#000"]
for p, c in zip(fib_prices, fib_line_cols):
    shapes.append(dict(type="line", xref="x", yref="y", x0=fib_t[0], x1=fib_t[1], y0=p, y1=p,
                       line=dict(color=c, width=1.5 if c in ("#222", "#000") else 1)))
# panel borders
for xr, yr in [("x", "y"), ("x2", "y2"), ("x3", "y3"), ("x4", "y4")]:
    shapes.append(dict(type="rect", xref=xr + " domain", yref=yr + " domain", x0=0, x1=1, y0=0, y1=1,
                       line=dict(color="#d0d0d0", width=1), layer="below"))
# full-width reference lines
shapes.append(dict(type="line", xref="x domain", yref="y", x0=0, x1=1, y0=start_price, y1=start_price,
                   line=dict(color="#222", width=1, dash="dot")))
shapes.append(dict(type="line", xref="x domain", yref="y", x0=0, x1=1, y0=last_price, y1=last_price,
                   line=dict(color="#3b3bf0", width=1.3, dash="dash")))
shapes.append(dict(type="line", xref="x domain", yref="y", x0=0, x1=1, y0=support, y1=support,
                   line=dict(color="#111", width=1.5)))
# zones
for x0, x1, y0, y1 in zones:
    shapes.append(dict(type="rect", xref="x", yref="y", x0=x0, x1=x1, y0=y0, y1=y1,
                       fillcolor="rgba(236,236,236,0.85)", line=dict(color="#555", width=1.5)))
# trend lines
for x0, y0, x1, y1 in trendlines:
    shapes.append(dict(type="line", xref="x", yref="y", x0=x0, y0=y0, x1=x1, y1=y1,
                       line=dict(color="#111", width=1.6)))

ann = []
ann.append(dict(xref="paper", yref="paper", x=px_x(7), y=px_y(14), xanchor="left", yanchor="middle",
                showarrow=False,
                text="<b>PCBOLSA.COM - INDRA Intradia Lineal Ajustado a Dividenos 27/11/2024 - 12/2/2025 , "
                     "7:00:01 Renta: -3,98%</b>",
                font=dict(family=FONT, size=14, color="#111")))
ann.append(dict(xref="paper", yref="paper", x=px_x(26), y=px_y(34), xanchor="left", yanchor="middle",
                showarrow=False,
                text=colored("SMA (100)", "#8fcaf2") + " " + colored("BOLL (20)", "#d0d0d0") + " "
                     + colored("SMA (9)", "#228b22"),
                font=dict(family=FONT, size=14)))
ann.append(dict(xref="paper", yref="y", x=px_x(8), y=support, xanchor="left", yanchor="bottom",
                showarrow=False, text="<b>16,105</b>", font=dict(family=FONT, size=14, color="#111"),
                yshift=0))
fib_cols = ["#7ddc7d", "#5d9cf0", "#5d9cf0", "#f4a0a0", "#f4a0a0", "#f4a0a0"]
for p, name, c in zip(fib_prices, fib_names, fib_cols):
    ann.append(dict(xref="x", yref="y", x=fib_t[1], y=p, xanchor="left", yanchor="bottom", showarrow=False,
                    text="<b>%s</b>" % name, font=dict(family=FONT, size=13, color=c), xshift=-2, yshift=-2))
ann.append(dict(xref="paper", yref="y", x=1, y=last_price, xanchor="left", yanchor="middle", showarrow=False,
                text="16,6200", bgcolor="#2e9e6e", font=dict(family=FONT, size=13, color="white"),
                xshift=2, borderpad=1))
ann.append(dict(xref="paper", yref="y3", x=1, y=56.617, xanchor="left", yanchor="middle", showarrow=False,
                text="56,617", bgcolor="#000", font=dict(family=FONT, size=13, color="white"),
                xshift=2, borderpad=1))
ann.append(dict(xref="paper", yref="y4", x=1, y=79.453, xanchor="left", yanchor="middle", showarrow=False,
                text="79,453", bgcolor="#000", font=dict(family=FONT, size=13, color="white"),
                xshift=2, borderpad=1))
for txt, x, y in [("MACD (12,26,9)&nbsp;&nbsp;&nbsp;0,01", 25, 645),
                  ("RSI (14)&nbsp;&nbsp;&nbsp;56,61", 25, 770),
                  ("STO (14,3,5)&nbsp;&nbsp;&nbsp;79,45", 26, 895)]:
    ann.append(dict(xref="paper", yref="paper", x=px_x(x), y=px_y(y), xanchor="left", yanchor="middle",
                    showarrow=False, text="<b>%s</b>" % txt, font=dict(family=FONT, size=13, color="#222")))

fig.update_layout(shapes=shapes, annotations=ann)
fig.write_html("out.html")
